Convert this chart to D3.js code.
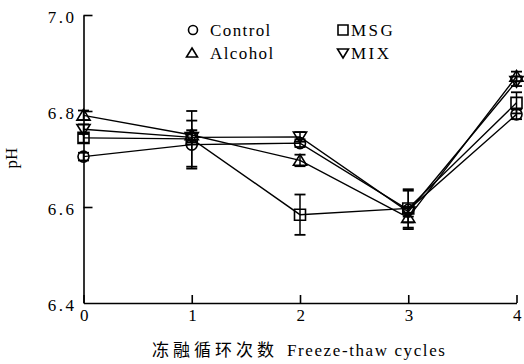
<!DOCTYPE html>
<html>
<head>
<meta charset="utf-8">
<script src="https://cdn.jsdelivr.net/npm/d3@7"></script>
<style>
  html, body { margin: 0; padding: 0; background: #fff; }
  svg { display: block; }
  svg text { font-family: "Times New Roman", Times, "Liberation Serif", "DejaVu Serif", serif; fill: #000; }
</style>
</head>
<body>
<svg id="chart" width="524" height="364"></svg>
<script>
// Freeze-thaw cycles and measured pH per treatment
const cycles = [0, 1, 2, 3, 4];
const seriesNames = ["Control", "MSG", "Alcohol", "MIX"];
const controlPH = [6.705, 6.730, 6.733, 6.594, 6.793];
const msgPH     = [6.744, 6.742, 6.584, 6.597, 6.817];
const alcoholPH = [6.791, 6.750, 6.697, 6.578, 6.872];
const mixPH     = [6.762, 6.745, 6.746, 6.590, 6.862];
// Standard deviations
const controlErr = [0.008, 0.050, 0.008, 0.040, 0.010];
const msgErr     = [0.010, 0.058, 0.042, 0.040, 0.022];
const alcoholErr = [0.010, 0.010, 0.012, 0.010, 0.010];
const mixErr     = [0.010, 0.010, 0.010, 0.010, 0.010];
const yTicks = [6.4, 6.6, 6.8, 7.0];
const xTitleZh = "冻融循环次数";
const xTitleEn = "Freeze-thaw cycles";
const yTitle = "pH";

const serif = '"Times New Roman", Times, "Liberation Serif", "DejaVu Serif", serif';

const series = [
  { name: seriesNames[0], values: controlPH, err: controlErr, shape: "circle" },
  { name: seriesNames[1], values: msgPH,     err: msgErr,     shape: "square" },
  { name: seriesNames[2], values: alcoholPH, err: alcoholErr, shape: "up" },
  { name: seriesNames[3], values: mixPH,     err: mixErr,     shape: "down" }
];

const svg = d3.select("#chart");
const x = d3.scaleLinear().domain([0, 4]).range([83.5, 516.5]);
const y = d3.scaleLinear().domain([6.4, 7.0]).range([303, 15]);

// marker path generator (centered at 0,0)
function markerPath(shape, s) {
  const h = s / 2;
  if (shape === "circle") {
    return `M${h},0A${h},${h} 0 1,1 ${-h},0A${h},${h} 0 1,1 ${h},0Z`;
  }
  if (shape === "square") return `M${-h},${-h}H${h}V${h}H${-h}Z`;
  if (shape === "up") return `M0,${-h}L${h * 1.1},${h * 0.8}L${-h * 1.1},${h * 0.8}Z`;
  return `M0,${h}L${h * 1.1},${-h * 0.8}L${-h * 1.1},${-h * 0.8}Z`;
}

// axes
const yAxis = d3.axisLeft(y).tickValues(yTicks).tickFormat(d3.format(".1f"))
  .tickSizeInner(-9).tickSizeOuter(0).tickPadding(7);
const gy = svg.append("g").attr("transform", `translate(${x(0)},0)`).call(yAxis);
const xAxis = d3.axisBottom(x).tickValues(cycles).tickFormat(d3.format("d"))
  .tickSizeInner(-8).tickSizeOuter(0).tickPadding(4);
const gx = svg.append("g").attr("transform", `translate(0,${y(6.4)})`).call(xAxis);

[gx, gy].forEach(g => {
  g.attr("font-family", null).attr("font-size", null);
  g.select(".domain").attr("stroke", "#000").attr("stroke-width", 1.6);
  g.selectAll(".tick line").attr("stroke", "#000").attr("stroke-width", 1.6);
  g.selectAll(".tick text")
    .style("font-family", serif)
    .style("font-size", "17px")
    .style("letter-spacing", "2.5px")
    .attr("fill", "#000");
});
gy.selectAll(".tick").filter(d => d === 6.4).select("line").remove();
gy.selectAll(".tick text").attr("dy", "0.42em");
gx.selectAll(".tick text").attr("dy", "0.8em").attr("dx", "1.5");

// lines
const line = d3.line().x((d, i) => x(cycles[i])).y(d => y(d));
const plot = svg.append("g");
series.forEach(s => {
  plot.append("path")
    .attr("d", line(s.values))
    .attr("fill", "none")
    .attr("stroke", "#000")
    .attr("stroke-width", 1.4);
});

// error bars
series.forEach(s => {
  const g = plot.append("g");
  s.values.forEach((v, i) => {
    const cx = x(cycles[i]);
    const top = y(v + s.err[i]), bot = y(v - s.err[i]);
    g.append("line").attr("x1", cx).attr("x2", cx).attr("y1", top).attr("y2", bot)
      .attr("stroke", "#000").attr("stroke-width", 1.5);
    [top, bot].forEach(yy => {
      g.append("line").attr("x1", cx - 5.5).attr("x2", cx + 5.5).attr("y1", yy).attr("y2", yy)
        .attr("stroke", "#000").attr("stroke-width", 1.8);
    });
  });
});

// markers
series.forEach(s => {
  plot.append("g").selectAll("path")
    .data(s.values)
    .join("path")
    .attr("transform", (d, i) => `translate(${x(cycles[i])},${y(d)})`)
    .attr("d", markerPath(s.shape, s.shape === "up" || s.shape === "down" ? 12 : 11))
    .attr("fill", "none")
    .attr("stroke", "#000")
    .attr("stroke-width", 1.6);
});

// legend
const legendPos = [
  { sx: 193, sy: 30, tx: 210, ty: 36 },
  { sx: 343, sy: 30, tx: 351, ty: 36 },
  { sx: 192, sy: 53, tx: 210, ty: 59 },
  { sx: 343, sy: 53, tx: 351, ty: 59 }
];
const legend = svg.append("g");
series.forEach((s, i) => {
  const p = legendPos[i];
  legend.append("path")
    .attr("transform", `translate(${p.sx},${p.sy})`)
    .attr("d", markerPath(s.shape, s.shape === "circle" ? 9 : 10))
    .attr("fill", "none").attr("stroke", "#000").attr("stroke-width", 1.6);
  legend.append("text")
    .attr("x", p.tx).attr("y", p.ty)
    .style("font-family", serif)
    .style("font-size", "17px")
    .style("letter-spacing", s.name === "MSG" || s.name === "MIX" ? "2.5px" : "1.4px")
    .text(s.name);
});

// axis titles
const xt = svg.append("text").attr("x", 152).attr("y", 356)
  .style("font-family", serif).style("font-size", "17px");
xt.append("tspan")
  .style("font-family", '"Noto Sans CJK SC", sans-serif')
  .style("letter-spacing", "4px")
  .text(xTitleZh);
xt.append("tspan")
  .attr("x", 287)
  .style("letter-spacing", "1.6px")
  .text(xTitleEn);

svg.append("text")
  .attr("transform", "translate(17,158) rotate(-90)")
  .attr("text-anchor", "middle")
  .style("font-family", serif)
  .style("font-size", "17px")
  .text(yTitle);
</script>
</body>
</html>
